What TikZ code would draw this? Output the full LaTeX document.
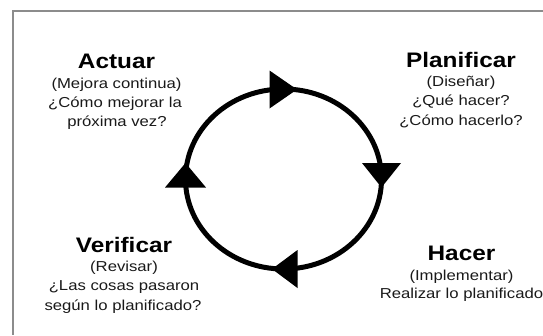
\documentclass[tikz,border=0pt]{standalone}
\usepackage{fontspec}
\newfontfamily\regfont[FakeStretch=1.16]{Liberation Sans}
\newfontfamily\titfont[FakeStretch=1.16]{Liberation Sans Bold}
\begin{document}
\begin{tikzpicture}[x=1pt,y=-1pt,
  frameline/.style={draw=black!45,line width=2pt},
  cycleline/.style={draw=black,line width=5pt},
  arrowhead/.style={fill=black},
  titletext/.style={anchor=base,inner sep=0pt,font=\titfont\fontsize{21}{25}\selectfont},
  bodytext/.style={anchor=base,inner sep=0pt,font=\regfont\fontsize{14.4}{19}\selectfont,text=black!90}]
\useasboundingbox (0,0) rectangle (543,335);
% frame
\draw[frameline] (543,10.5) -- (12.5,10.5) -- (12.5,335);
% cycle
\draw[cycleline] (283.5,179) ellipse [x radius=98, y radius=90];
% arrowheads
\fill[arrowhead] (269.5,70.5) -- (297,89.5) -- (269.5,108.5) -- cycle;
\fill[arrowhead] (362,163) -- (401,163) -- (381.5,187.5) -- cycle;
\fill[arrowhead] (297.5,250) -- (272,269) -- (297.5,288) -- cycle;
\fill[arrowhead] (165,187.5) -- (206,187.5) -- (185.5,163) -- cycle;
% Actuar
\node[titletext] (act) at (116.5,68) {Actuar};
\node[bodytext] (act1) at (116.5,88.5) {(Mejora continua)};
\node[bodytext] (act2) at (115,107.5) {¿Cómo mejorar la};
\node[bodytext] (act3) at (117,126.5) {próxima vez?};
% Planificar
\node[titletext] (pla) at (461,67) {Planificar};
\node[bodytext] (pla1) at (461,86.7) {(Diseñar)};
\node[bodytext] (pla2) at (461,105.7) {¿Qué hacer?};
\node[bodytext] (pla3) at (461,125) {¿Cómo hacerlo?};
% Verificar
\node[titletext] (ver) at (124,252.3) {Verificar};
\node[bodytext] (ver1) at (124,271.7) {(Revisar)};
\node[bodytext] (ver2) at (124,290.7) {¿Las cosas pasaron};
\node[bodytext] (ver3) at (123,310) {según lo planificado?};
% Hacer
\node[titletext] (hac) at (461.5,260) {Hacer};
\node[bodytext] (hac1) at (461.5,280) {(Implementar)};
\node[bodytext] (hac2) at (461.5,298.5) {Realizar lo planificado};
\end{tikzpicture}
\end{document}
